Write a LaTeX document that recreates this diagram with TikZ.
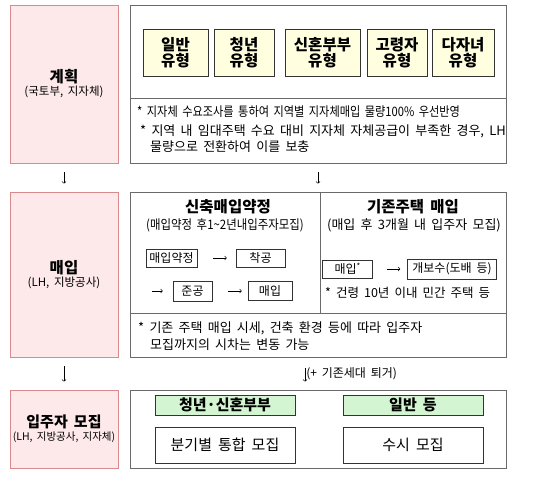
\documentclass[tikz,border=0pt]{standalone}
\usepackage{fontspec}
\setmainfont{Noto Sans CJK KR}[WordSpace=1.8]
\usepackage{tikz}
\definecolor{stagefill}{HTML}{FDE9EA}
\definecolor{stageline}{HTML}{D98A8E}
\definecolor{typefill}{HTML}{FFFFE0}
\definecolor{groupfill}{HTML}{D4F5D2}
\definecolor{panelline}{HTML}{6A6A6A}

\begin{document}
\begin{tikzpicture}[x=1pt,y=-1pt,
	stagebox/.style={draw=stageline,fill=stagefill,line width=0.8pt,minimum width=108pt,inner sep=0pt,align=center},
	panelbox/.style={draw=panelline,line width=0.8pt,minimum width=376pt,inner sep=0pt},
	typebox/.style={draw=black!80,fill=typefill,line width=0.7pt,minimum height=47pt,inner sep=0pt,align=center,font=\fontsize{15.5}{16}\selectfont\bfseries},
	stepbox/.style={draw=black!80,line width=0.6pt,minimum height=18pt,inner sep=0pt,font=\fontsize{12}{12}\selectfont},
	groupbox/.style={draw=black!80,fill=groupfill,line width=0.6pt,minimum width=140pt,minimum height=20pt,inner sep=0pt,font=\fontsize{15}{15}\selectfont\bfseries},
	recbox/.style={draw=black!80,line width=0.6pt,minimum width=140pt,minimum height=36pt,inner sep=0pt,font=\fontsize{15}{15}\selectfont},
	notetext/.style={inner sep=0pt,anchor=west,font=\fontsize{13}{14}\selectfont},
	headtext/.style={inner sep=0pt,font=\fontsize{15.5}{16}\selectfont\bfseries},
	subtext/.style={inner sep=0pt,font=\fontsize{13}{14}\selectfont},
	flow/.style={->,line width=0.6pt}]
	\useasboundingbox (0,0) rectangle (537,486);
	% stages
	\node[stagebox,minimum height=158pt] (plan) at (64,84)
		{{\fontsize{15.5}{17}\selectfont\bfseries 계획}\\[1pt]{\fontsize{11.5}{12}\selectfont (국토부, 지자체)}};
	\node[stagebox,minimum height=165pt] (buy) at (64,274.5)
		{{\fontsize{15.5}{17}\selectfont\bfseries 매입}\\[1pt]{\fontsize{11.5}{12}\selectfont (LH, 지방공사)}};
	\node[stagebox,minimum height=78pt] (recruit) at (64,429)
		{{\fontsize{15}{17}\selectfont\bfseries 입주자 모집}\\[1pt]{\fontsize{10.5}{12}\selectfont (LH, 지방공사, 지자체)}};
	% panels
	\node[panelbox,minimum height=158pt] (planR) at (318,84) {};
	\node[panelbox,minimum height=165pt] (buyR) at (318,274.5) {};
	\node[panelbox,minimum height=78pt] (recruitR) at (318,429) {};
	\draw[panelline,line width=0.8pt] (planR.west |- 0,98) -- (planR.east |- 0,98);
	\draw[panelline,line width=0.8pt] (buyR.west |- 0,313) -- (buyR.east |- 0,313);
	\draw[panelline,line width=0.8pt] (buyR.north) ++(2,0) -- ++(0,121);
	% plan panel
	\node[typebox,minimum width=65pt] (tgen) at (175.5,52.5) {일반\\유형};
	\node[typebox,minimum width=60pt] (tyou) at (244,52.5) {청년\\유형};
	\node[typebox,minimum width=75pt] (tnew) at (322.5,52.5) {신혼부부\\유형};
	\node[typebox,minimum width=60pt] (told) at (397,52.5) {고령자\\유형};
	\node[typebox,minimum width=62pt] (tkid) at (463,52.5) {다자녀\\유형};
	\node[notetext] (pnote1) at (137,112) {\scalebox{0.86}[1]{* 지자체 수요조사를 통하여 지역별 지자체매입 물량100\% 우선반영}};
	\node[notetext] (pnote2) at (140,131) {* 지역 내 임대주택 수요 대비 지자체 자체공급이 부족한 경우, LH};
	\node[notetext] (pnote3) at (150,147) {물량으로 전환하여 이를 보충};
	% buy panel
	\node[headtext] (hnew) at (228,207) {신축매입약정};
	\node[subtext] (snew) at (225,225) {\scalebox{0.88}[1]{(매입약정 후1\textasciitilde2년내입주자모집)}};
	\node[headtext] (hold) at (413,207) {기존주택 매입};
	\node[subtext] (sold) at (414,225) {(매입 후 3개월 내 입주자 모집)};
	\node[stepbox,minimum width=51pt] (yak) at (171.5,258) {매입약정};
	\node[stepbox,minimum width=49pt] (chak) at (260.5,258) {착공};
	\coordinate (cont) at (150,291);
	\node[stepbox,minimum width=39pt,minimum height=20pt] (jun) at (192.5,291) {준공};
	\node[stepbox,minimum width=44pt,minimum height=19pt] (mae) at (270,291) {매입};
	\node[stepbox,minimum width=50pt] (maes) at (347.7,269) {매입\textsuperscript{*}};
	\node[stepbox,minimum width=89pt,minimum height=20pt] (gae) at (452,269) {개보수(도배 등)};
	\node[notetext,font=\fontsize{12.5}{13}\selectfont] (bnote) at (325,293) {* 건령 10년 이내 민간 주택 등};
	\draw[flow,shorten <=16pt,shorten >=9pt] (yak) -- (chak);
	\draw[flow,shorten <=2pt,shorten >=10pt] (cont) -- (jun);
	\draw[flow,shorten <=16pt,shorten >=6pt] (jun) -- (mae);
	\draw[flow,shorten <=14pt,shorten >=7pt] (maes) -- (gae);
	\node[notetext] (bnote1) at (138,328) {* 기존 주택 매입 시세, 건축 환경 등에 따라 입주자};
	\node[notetext] (bnote2) at (150,345) {모집까지의 시차는 변동 가능};
	% recruit panel
	\node[groupbox] (gyoung) at (225,405) {청년·신혼부부};
	\node[groupbox] (ggen) at (413,405) {일반 등};
	\node[recbox] (rq) at (225,445) {분기별 통합 모집};
	\node[recbox] (rs) at (413,445) {수시 모집};
	% stage arrows
	\draw[flow,shorten <=9pt,shorten >=8pt] (plan) -- (buy);
	\draw[flow,shorten <=9pt,shorten >=8pt] (buy) -- (recruit);
	\draw[flow,shorten <=9pt,shorten >=8pt] (planR) -- (buyR);
	\draw[flow,shorten <=11pt,shorten >=8pt] ([xshift=-13pt]buyR.south) -- ([xshift=-13pt]recruitR.north)
		node[midway,anchor=west,xshift=1pt,inner sep=0pt,font=\fontsize{12}{12}\selectfont] {(+ 기존세대 퇴거)};
\end{tikzpicture}
\end{document}
